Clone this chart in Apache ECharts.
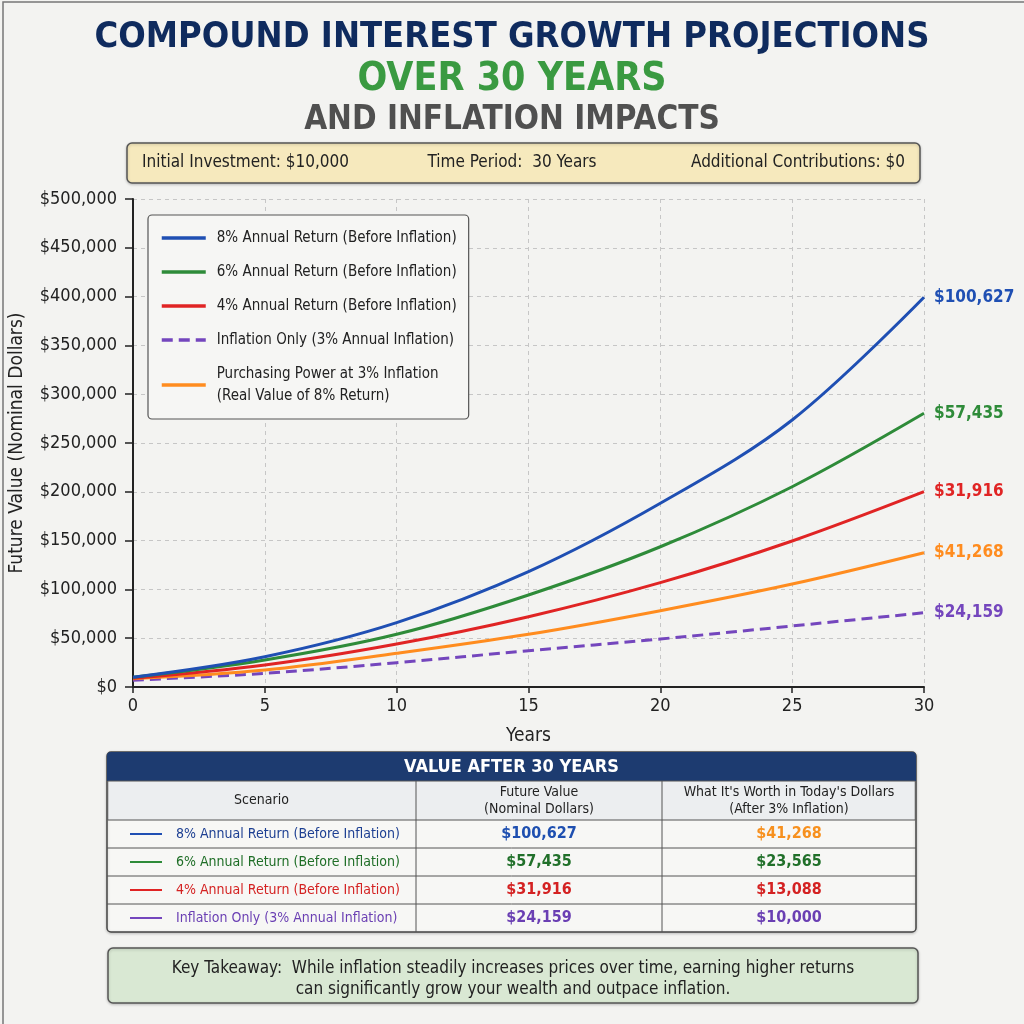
<!DOCTYPE html>
<html>
<head>
<meta charset="utf-8">
<title>Compound Interest Growth Projections</title>
<script src="https://cdn.jsdelivr.net/npm/echarts@6/dist/echarts.min.js"></script>
<style>
  html, body { margin: 0; padding: 0; background: #f3f3f1; }
  #main { width: 1024px; height: 1024px; }
</style>
</head>
<body>
<div id="main"></div>
<script>
// data
var years = [0, 5, 10, 15, 20, 25, 30];
var ret8 = [10000, 31000, 65900, 118100, 188200, 273600, 399300];
var ret6 = [10000, 27700, 54000, 94300, 143700, 205200, 280400];
var ret4 = [9000, 22500, 44000, 72000, 106900, 149600, 200100];
var inflationOnly = [7000, 14000, 24900, 37200, 49200, 62500, 76100];
var realValue8 = [8500, 17400, 34500, 54000, 78200, 105500, 137600];

var seriesNames = [
  '8% Annual Return (Before Inflation)',
  '6% Annual Return (Before Inflation)',
  '4% Annual Return (Before Inflation)',
  'Inflation Only (3% Annual Inflation)',
  'Purchasing Power at 3% Inflation\n(Real Value of 8% Return)'
];
var endLabels = ['$100,627', '$57,435', '$31,916', '$24,159', '$41,268'];
var colors = ['#1f4fb3', '#2e8b39', '#e02424', '#7446bd', '#ff8c1f'];

var tableScenarios = [
  '8% Annual Return (Before Inflation)',
  '6% Annual Return (Before Inflation)',
  '4% Annual Return (Before Inflation)',
  'Inflation Only (3% Annual Inflation)'
];
var tableNominal = ['$100,627', '$57,435', '$31,916', '$24,159'];
var tableReal = ['$41,268', '$23,565', '$13,088', '$10,000'];
var tableTextColors = ['#1d3f92', '#1f6e27', '#d42222', '#6a3fb3'];
var tableNominalColors = ['#1e4fb0', '#21702a', '#d42222', '#6a3fb3'];
var tableRealColors = ['#f7901e', '#21702a', '#d42222', '#6a3fb3'];

var FONT = "'Liberation Sans Narrow', 'DejaVu Sans Condensed', 'Roboto', sans-serif";

function pairs(ys) {
  return years.map(function (x, i) { return [x, ys[i]]; });
}

var seriesData = [ret8, ret6, ret4, inflationOnly, realValue8];

var series = seriesData.map(function (d, i) {
  return {
    name: seriesNames[i],
    type: 'line',
    smooth: 0.35,
    symbol: 'none',
    data: pairs(d),
    z: i === 3 ? 1 : 5 - i,
    lineStyle: {
      width: 3,
      color: colors[i],
      type: i === 3 ? [11, 6] : 'solid'
    },
    itemStyle: { color: colors[i] },
    endLabel: {
      show: true,
      formatter: function () { return endLabels[i]; },
      color: colors[i],
      fontSize: 17,
      fontWeight: 'bold',
      fontFamily: FONT,
      distance: 10
    }
  };
});

// table and boxes as graphic elements
var graphic = [];
// outer frame (only top/left visible in the reference)
graphic.push({ type: 'rect', shape: { x: 3, y: 2, width: 1040, height: 1040 }, style: { fill: 'none', stroke: '#777', lineWidth: 1.5 }, silent: true });

// info box
graphic.push({ type: 'rect', shape: { x: 127, y: 143, width: 793, height: 40, r: 5 }, style: { fill: '#f6e9bd', stroke: '#555', lineWidth: 1.5, shadowBlur: 3, shadowColor: 'rgba(0,0,0,0.2)', shadowOffsetY: 1 } });
graphic.push({ type: 'text', x: 142, y: 163, style: { text: 'Initial Investment: $10,000', fontSize: 17, fontFamily: FONT, fill: '#222', verticalAlign: 'middle' } });
graphic.push({ type: 'text', x: 512, y: 163, style: { text: 'Time Period:  30 Years', fontSize: 17, fontFamily: FONT, fill: '#222', align: 'center', verticalAlign: 'middle' } });
graphic.push({ type: 'text', x: 905, y: 163, style: { text: 'Additional Contributions: $0', fontSize: 17, fontFamily: FONT, fill: '#222', align: 'right', verticalAlign: 'middle' } });

// table
var tX = 107, tY = 752, tW = 809, c1 = 416, c2 = 662;
var headH = 29, colHeadH = 39, rowH = 28;
var tH = headH + colHeadH + rowH * tableScenarios.length;
graphic.push({ type: 'rect', shape: { x: tX, y: tY, width: tW, height: tH, r: 4 }, style: { fill: '#f7f7f5', stroke: '#444', lineWidth: 1.5, shadowBlur: 3, shadowColor: 'rgba(0,0,0,0.2)', shadowOffsetY: 1 } });
graphic.push({ type: 'rect', shape: { x: tX, y: tY, width: tW, height: headH, r: [4, 4, 0, 0] }, style: { fill: '#1d3b70' } });
graphic.push({ type: 'text', x: tX + tW / 2, y: tY + headH / 2 + 1, style: { text: 'VALUE AFTER 30 YEARS', fontSize: 18, fontWeight: 'bold', fontFamily: FONT, fill: '#fff', align: 'center', verticalAlign: 'middle' } });
var chY = tY + headH;
graphic.push({ type: 'rect', shape: { x: tX + 0.75, y: chY, width: tW - 1.5, height: colHeadH }, style: { fill: '#eceef0', stroke: '#555', lineWidth: 1 } });
graphic.push({ type: 'text', x: (tX + c1) / 2, y: chY + colHeadH / 2, style: { text: 'Scenario', fontSize: 14, fontFamily: FONT, fill: '#222', align: 'center', verticalAlign: 'middle' } });
graphic.push({ type: 'text', x: (c1 + c2) / 2, y: chY + colHeadH / 2, style: { text: 'Future Value\n(Nominal Dollars)', fontSize: 14, lineHeight: 17, fontFamily: FONT, fill: '#222', align: 'center', verticalAlign: 'middle' } });
graphic.push({ type: 'text', x: (c2 + tX + tW) / 2, y: chY + colHeadH / 2, style: { text: "What It's Worth in Today's Dollars\n(After 3% Inflation)", fontSize: 14, lineHeight: 17, fontFamily: FONT, fill: '#222', align: 'center', verticalAlign: 'middle' } });
graphic.push({ type: 'line', shape: { x1: c1, y1: chY, x2: c1, y2: tY + tH }, style: { stroke: '#555', lineWidth: 1 } });
graphic.push({ type: 'line', shape: { x1: c2, y1: chY, x2: c2, y2: tY + tH }, style: { stroke: '#555', lineWidth: 1 } });
tableScenarios.forEach(function (name, i) {
  var ry = chY + colHeadH + i * rowH;
  var cy = ry + rowH / 2;
  if (i > 0) {
    graphic.push({ type: 'line', shape: { x1: tX, y1: ry, x2: tX + tW, y2: ry }, style: { stroke: '#555', lineWidth: 1 } });
  }
  graphic.push({ type: 'line', shape: { x1: 130, y1: cy, x2: 162, y2: cy }, style: { stroke: colors[i], lineWidth: 2 } });
  graphic.push({ type: 'text', x: 176, y: cy, style: { text: name, fontSize: 14, fontFamily: FONT, fill: tableTextColors[i], verticalAlign: 'middle' } });
  graphic.push({ type: 'text', x: (c1 + c2) / 2, y: cy, style: { text: tableNominal[i], fontSize: 16, fontWeight: 'bold', fontFamily: FONT, fill: tableNominalColors[i], align: 'center', verticalAlign: 'middle' } });
  graphic.push({ type: 'text', x: (c2 + tX + tW) / 2, y: cy, style: { text: tableReal[i], fontSize: 16, fontWeight: 'bold', fontFamily: FONT, fill: tableRealColors[i], align: 'center', verticalAlign: 'middle' } });
});

// takeaway box
graphic.push({ type: 'rect', shape: { x: 108, y: 948, width: 810, height: 55, r: 5 }, style: { fill: '#d9e8d3', stroke: '#555', lineWidth: 1.5, shadowBlur: 3, shadowColor: 'rgba(0,0,0,0.2)', shadowOffsetY: 1 } });
graphic.push({ type: 'text', x: 513, y: 979, style: { text: 'Key Takeaway:  While inflation steadily increases prices over time, earning higher returns\ncan significantly grow your wealth and outpace inflation.', fontSize: 17, lineHeight: 21, fontFamily: FONT, fill: '#222', align: 'center', verticalAlign: 'middle' } });

var myChart = echarts.init(document.getElementById('main'));
var option = {
  backgroundColor: '#f3f3f1',
  animation: false,
  title: [
    { text: 'COMPOUND INTEREST GROWTH PROJECTIONS', left: 'center', top: 15, textStyle: { fontSize: 36, fontWeight: 'bold', color: '#0f2b5e', fontFamily: FONT } },
    { text: 'OVER 30 YEARS', left: 'center', top: 55, textStyle: { fontSize: 39, fontWeight: 'bold', color: '#3a9a41', fontFamily: FONT } },
    { text: 'AND INFLATION IMPACTS', left: 'center', top: 99, textStyle: { fontSize: 33, fontWeight: 'bold', color: '#505050', fontFamily: FONT } }
  ],
  color: colors,
  legend: {
    data: seriesNames,
    orient: 'vertical',
    left: 148,
    top: 215,
    itemWidth: 44,
    itemHeight: 14,
    itemGap: 12,
    padding: [12, 12, 12, 12],
    backgroundColor: '#f6f6f4',
    borderColor: '#555',
    borderWidth: 1.2,
    borderRadius: 4,
    itemStyle: { opacity: 0 },
    lineStyle: { width: 3.5 },
    textStyle: { fontSize: 15, color: '#222', fontFamily: FONT, lineHeight: 22, padding: [0, 0, 0, 6] }
  },
  grid: { left: 128, right: 100, top: 199, bottom: 337 },
  xAxis: {
    type: 'value',
    min: 0,
    max: 30,
    interval: 5,
    name: 'Years',
    nameLocation: 'middle',
    nameGap: 40,
    nameTextStyle: { fontSize: 19, color: '#222', fontFamily: FONT },
    axisLine: { lineStyle: { color: '#222', width: 2 } },
    axisTick: { show: true, length: 6, lineStyle: { color: '#222', width: 1.5 } },
    axisLabel: { fontSize: 18, color: '#222', fontFamily: FONT, margin: 10 },
    splitLine: { show: true, lineStyle: { color: '#c6c6c6', type: [4, 4], width: 1 } }
  },
  yAxis: {
    type: 'value',
    min: 0,
    max: 500000,
    interval: 50000,
    name: 'Future Value (Nominal Dollars)',
    nameLocation: 'middle',
    nameGap: 106,
    nameTextStyle: { fontSize: 19, color: '#222', fontFamily: FONT },
    axisLine: { show: true, lineStyle: { color: '#222', width: 2 } },
    axisTick: { show: true, length: 8, lineStyle: { color: '#222', width: 1.5 } },
    axisLabel: {
      fontSize: 18, color: '#222', fontFamily: FONT, margin: 16,
      formatter: function (v) { return '$' + v.toLocaleString('en-US'); }
    },
    splitLine: { show: true, lineStyle: { color: '#c6c6c6', type: [4, 4], width: 1 } }
  },
  series: series,
  graphic: graphic
};
myChart.setOption(option);

window.addEventListener('resize', function () {
  myChart.resize();
});
</script>
</body>
</html>
